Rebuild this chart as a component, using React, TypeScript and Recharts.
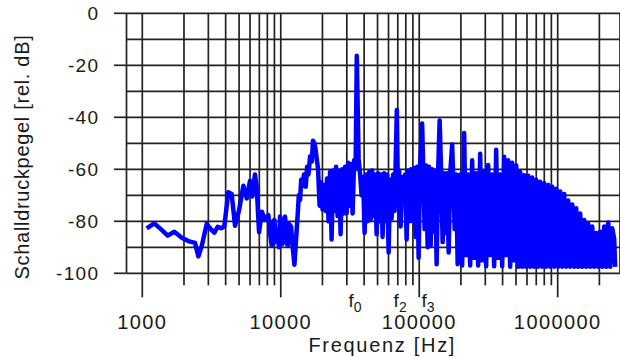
import React from 'react';
import { LineChart, Line, XAxis, YAxis, CartesianGrid, ReferenceDot, Label } from 'recharts';

// spectrum, [frequency Hz, level dB]
const lowBand: [number, number][] = [
  [1076, -82.7], [1221, -80.8], [1380, -83.3], [1526, -85.5], [1702, -84], [1928, -86.3], [2149, -87.6],
  [2403, -88.3], [2541, -93.5], [2687, -89.5], [2919, -81], [3084, -82.7], [3313, -84.4], [3500, -82.1],
  [3705, -82.7], [3910, -82], [4180, -68.8], [4420, -69.5], [4676, -81.7], [5000, -75.7], [5370, -66.3],
  [5680, -71.2], [6000, -64.4], [6230, -70.5], [6510, -62], [6700, -66.7], [6970, -84.2], [7300, -76.3],
  [7700, -79.5], [8140, -77.6], [8350, -84], [8600, -89.3], [8800, -80], [8990, -79.5], [9250, -88],
  [9500, -83.3], [9700, -90], [9880, -78.2], [10050, -84], [10270, -88.8], [10500, -80], [10740, -78.2],
  [11000, -88], [11230, -89.3], [11500, -81], [11870, -82.1], [12200, -90], [12550, -96.7],
  [13270, -76.9], [13500, -70], [13790, -71.8], [14050, -64], [14330, -66.5], [14700, -62], [15160, -66.7],
  [15500, -59], [15830, -62], [16300, -55], [16750, -57], [17100, -49], [17500, -50], [17800, -52],
];

const midBand: [number, number][] = [
  [18600, -60], [19070, -74], [19552, -65], [20046, -75.5], [20553, -66], [21072, -76], [21604, -63.5],
  [22150, -80], [22710, -61], [23284, -87], [23872, -60.5], [24475, -76], [25093, -59], [25727, -78],
  [26377, -60.5], [27044, -85], [27727, -60], [28428, -77], [29146, -59], [29883, -77], [30638, -57.5],
  [31412, -74], [32206, -58], [33019, -77], [33854, -56.5], [34709, -60], [35410, -16.3], [36486, -56],
  [37408, -62], [38353, -70], [39322, -63], [40315, -84.5], [41334, -62], [42379, -80], [43450, -61],
  [44548, -79.5], [45673, -60.5], [46827, -78], [48011, -62], [49224, -85], [50468, -61.5], [51743, -80],
  [53051, -62], [54391, -86], [55766, -61.5], [57175, -80], [58620, -62], [60101, -92], [61620, -64],
  [63177, -79], [64773, -62], [66410, -76], [68900, -37.2], [69809, -60], [71573, -60.5], [73381, -82],
  [75236, -63], [77137, -72], [79086, -62], [81085, -87], [83134, -60.5], [85234, -80], [87388, -60],
  [89596, -80], [91860, -59.5], [94182, -86], [96562, -59], [99002, -94], [101504, -58], [104950, -42.4],
  [106699, -58], [109395, -83], [112160, -58.5], [114994, -90], [117900, -59], [120879, -89.5],
  [123934, -60], [127066, -84], [130277, -60.5], [133569, -96.5], [136944, -61], [140405, -41.2],
  [143953, -61.5], [147591, -88], [151320, -61.5], [155144, -84.5], [159065, -61.5], [163084, -92],
  [167205, -62], [172900, -50.5], [175763, -62], [180204, -83], [184758, -62], [189427, -96.5],
];

const highBand: [number, number][] = [
  [197500, -62], [204200, -97], [211000, -46], [218300, -93], [225600, -62], [233200, -97],
  [241100, -56.5], [249300, -94], [257700, -61.5], [266400, -97], [275400, -54], [284700, -95],
  [294400, -61], [304300, -97.3], [314600, -58.3], [325300, -93], [336300, -62], [347600, -97.3],
  [359400, -52.5], [371600, -94], [384100, -62], [397200, -97.3], [410600, -55.2], [424500, -93],
  [438800, -56.5], [453700, -97.5], [469000, -57.5], [484900, -95], [501300, -58.5], [518200, -97.5],
  [535800, -61], [553900, -97.5], [572600, -62.3], [592000, -97.5], [612000, -62.5], [632700, -97.5],
  [654000, -63.2], [676200, -97.5], [699000, -64], [722700, -97.5], [747100, -64.8], [772700, -97.5],
  [798500, -65.4], [825700, -97.5], [853500, -66], [882600, -97.5], [912400, -66.7], [943400, -97.5],
  [975200, -67.5], [1008300, -97.5], [1042300, -68.5], [1077700, -97.5], [1114100, -69.5],
  [1151900, -97.5], [1190800, -72], [1231200, -97.5], [1272800, -73.5], [1316000, -97.5],
  [1360400, -75], [1406600, -97.5], [1454100, -77], [1503400, -97.5], [1554200, -79.5], [1606900, -97.5],
  [1661200, -81], [1717500, -97.5], [1775500, -82], [1835700, -97.5], [1897700, -84.5], [1962100, -97.5],
  [2028400, -84], [2097100, -97.5], [2168000, -82], [2241400, -97.5], [2317100, -80.5], [2395700, -97.5],
  [2476600, -82.7], [2560500, -87], [2600000, -97.5],
];

const DECADES = [1000, 10000, 100000, 1000000];
const MINOR_STEPS = [2, 3, 4, 5, 6, 7, 8, 9];
const LEVEL_LINES = [0, -10, -20, -30, -40, -50, -60, -70, -80, -90, -100];
const HARMONICS = [
  { sub: '0', hz: 34400 },
  { sub: '2', hz: 72800 },
  { sub: '3', hz: 115800 },
];

const X_MIN = 769;
const X_MAX = 2818000;
const FONT = '"Liberation Sans", Arial, sans-serif';
const INK = '#1a1a1a';
const GRID = '#222';

const gridFreqs = DECADES.flatMap(d => [d, ...MINOR_STEPS.map(s => s * d)]).filter(f => f < X_MAX);
const spectrum = [...lowBand, ...midBand, ...highBand].map(([hz, db]) => ({ hz, db }));

const FreqTick = ({ x, y, payload }: any) => {
  const major = DECADES.includes(payload.value);
  return (
    <g>
      <line x1={x} y1={y} x2={x} y2={y + (major ? 24 : 12)} stroke={GRID} strokeWidth={1.7} />
      {major && (
        <text x={x} y={y} dy={55.7} textAnchor="middle" fontSize={20} letterSpacing={1.4} fill={INK} fontFamily={FONT}>
          {payload.value}
        </text>
      )}
    </g>
  );
};

const LevelTick = ({ x, y, payload }: any) => {
  if (payload.value % 20 !== 0) return <g />;
  return (
    <g>
      <line x1={x - 12.5} y1={y} x2={x} y2={y} stroke={GRID} strokeWidth={1.7} />
      <text x={x - 27.2} y={y} dy={7} textAnchor="end" fontSize={19} letterSpacing={1.3} fill={INK} fontFamily={FONT}>
        {payload.value}
      </text>
    </g>
  );
};

const HarmonicMark = (sub: string) => (p: any) => (
  <text x={p.cx} y={p.cy + 33.7} textAnchor="middle" fontSize={19} fill={INK} fontFamily={FONT}>
    f<tspan fontSize={14} dy={4.7}>{sub}</tspan>
  </text>
);

export default function App() {
  return (
    <div style={{ position: 'absolute', left: 0, top: 0, background: '#fff' }}>
      <LineChart width={620} height={359} data={spectrum} margin={{ top: 13.3, right: 0, bottom: 0, left: 0 }}>
        <CartesianGrid stroke={GRID} strokeWidth={1.7} />
        <XAxis
          dataKey="hz"
          type="number"
          scale="log"
          domain={[X_MIN, X_MAX]}
          ticks={gridFreqs}
          interval={0}
          tick={(p: any) => <FreqTick {...p} />}
          tickLine={false}
          axisLine={false}
          tickSize={0}
          tickMargin={0}
          height={85.7}
        >
          <Label
            content={({ viewBox }: any) => (
              <text
                x={viewBox.x + viewBox.width / 2 + 9}
                y={viewBox.y + 79}
                textAnchor="middle"
                fontSize={20}
                letterSpacing={1.7}
                fill={INK}
                fontFamily={FONT}
              >
                Frequenz [Hz]
              </text>
            )}
          />
        </XAxis>
        <YAxis
          type="number"
          domain={[-100, 0]}
          ticks={LEVEL_LINES}
          interval={0}
          tick={(p: any) => <LevelTick {...p} />}
          tickLine={false}
          axisLine={false}
          tickSize={0}
          tickMargin={0}
          width={126.5}
        >
          <Label
            content={() => (
              <text
                transform="translate(29.3, 157) rotate(-90)"
                textAnchor="middle"
                fontSize={20}
                letterSpacing={0.7}
                fill={INK}
                fontFamily={FONT}
              >
                Schalldruckpegel [rel. dB]
              </text>
            )}
          />
        </YAxis>
        <Line
          dataKey="db"
          type="linear"
          stroke="#0000ff"
          strokeWidth={4.5}
          strokeLinejoin="round"
          dot={false}
          isAnimationActive={false}
        />
        {HARMONICS.map(h => (
          <ReferenceDot key={h.sub} x={h.hz} y={-100} r={0} ifOverflow="visible" shape={HarmonicMark(h.sub)} />
        ))}
      </LineChart>
    </div>
  );
}
